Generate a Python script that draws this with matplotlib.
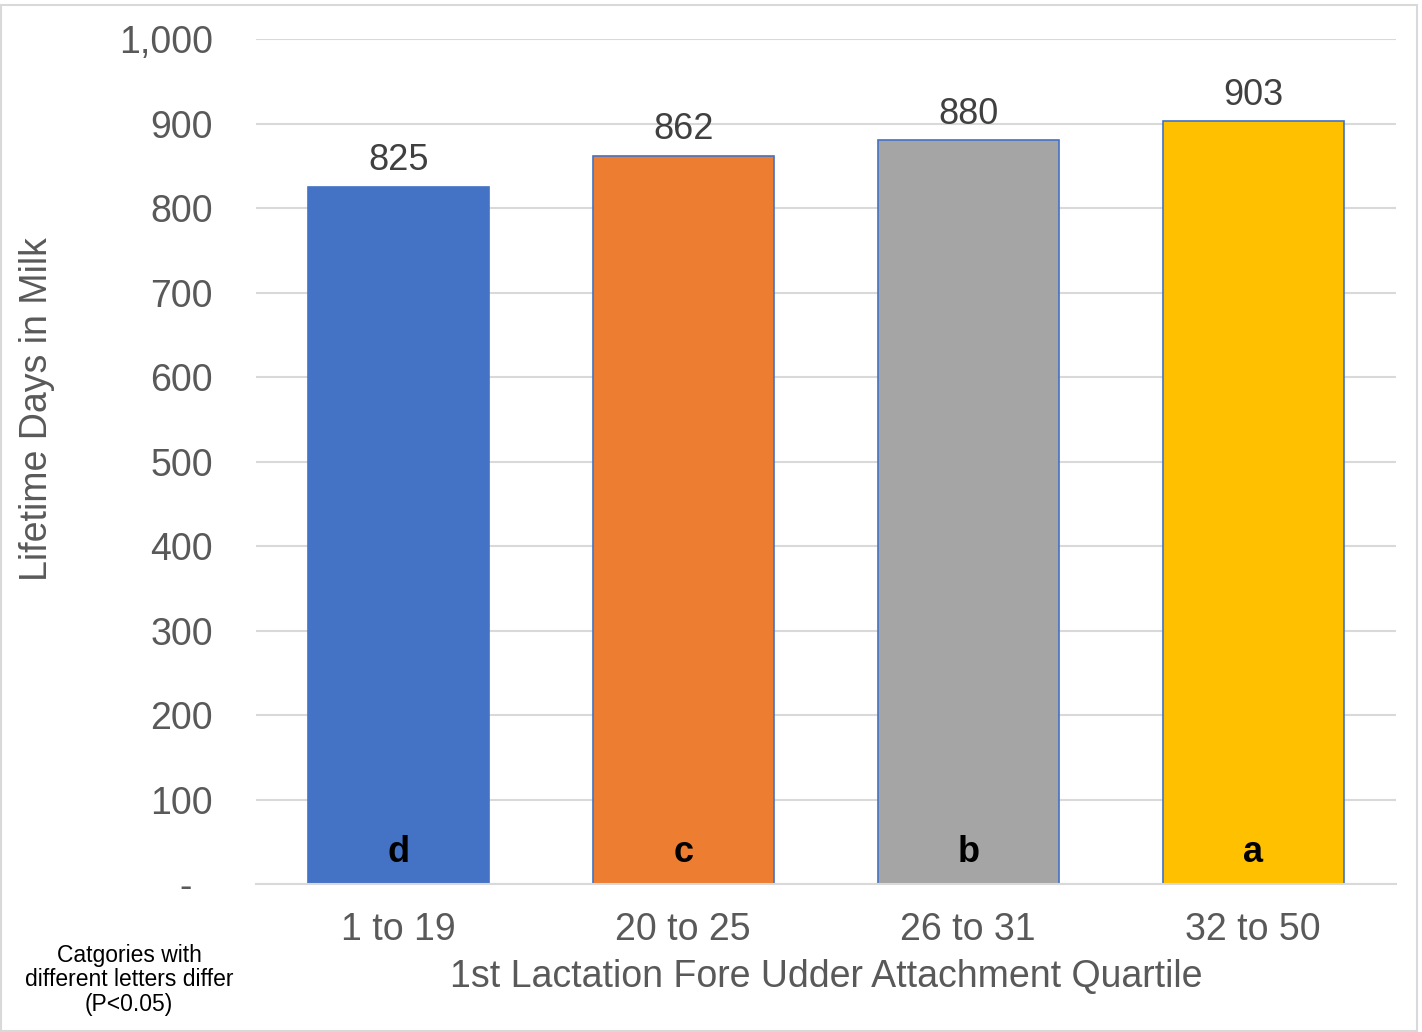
import numpy as np
import matplotlib.pyplot as plt
from matplotlib.patches import Rectangle

plt.rcParams['font.family'] = ['Liberation Sans', 'DejaVu Sans']

categories = ["1 to 19", "20 to 25", "26 to 31", "32 to 50"]
days = [825, 862, 880, 903]
letters = ["d", "c", "b", "a"]
colors = ["#4472C4", "#ED7D31", "#A5A5A5", "#FFC000"]
yticks = [0, 100, 200, 300, 400, 500, 600, 700, 800, 900, 1000]
ytick_labels = ["-  ", "100", "200", "300", "400", "500", "600", "700", "800", "900", "1,000"]

text_gray = "#595959"
grid_gray = "#D9D9D9"

fig = plt.figure(figsize=(14.22, 10.32), dpi=100)
ax = fig.add_axes([0.18, 0.1434, 0.8014, 0.8188])

x = np.arange(len(categories))
ax.bar(x, days, width=0.635, color=colors, edgecolor="#4472C4", linewidth=1.2, zorder=3)

for xi, v in zip(x, days):
    ax.text(xi, v + 10, str(v), ha="center", va="bottom", fontsize=26, color="#404040")
for xi, l in zip(x, letters):
    ax.text(xi, 16, l, ha="center", va="bottom", fontsize=26, fontweight="bold", color="black", zorder=4)

ax.set_xlim(-0.5, len(categories) - 0.5)
ax.set_ylim(0, 1000)
ax.set_yticks(yticks)
ax.set_yticklabels(ytick_labels)
ax.set_xticks(x)
ax.set_xticklabels(categories)
ax.tick_params(axis="both", length=0, labelsize=27, labelcolor=text_gray)
ax.tick_params(axis="y", pad=31)
ax.tick_params(axis="x", pad=20)
ax.yaxis.grid(True, color=grid_gray, linewidth=1.5, zorder=0)
for s in ["top", "right", "left"]:
    ax.spines[s].set_visible(False)
ax.spines["bottom"].set_color(grid_gray)
ax.spines["bottom"].set_linewidth(1.5)
ax.spines["bottom"].set_zorder(3.5)

fig.text(826 / 1422, 1 - 977 / 1032, "1st Lactation Fore Udder Attachment Quartile",
         ha="center", va="center", fontsize=27, color=text_gray)
fig.text(37 / 1422, 1 - 409 / 1032, "Lifetime Days in Milk", rotation=90,
         ha="center", va="center", fontsize=27, color=text_gray)
fig.text(129 / 1422, 1 - 980 / 1032, "Catgories with\ndifferent letters differ\n(P<0.05)",
         ha="center", va="center", fontsize=16.5, color="black", linespacing=1.1)

fig.patches.append(Rectangle((0.001, 0.001), 0.9955, 0.994, transform=fig.transFigure,
                             fill=False, edgecolor=grid_gray, linewidth=1.5))

fig.savefig("out.png", dpi=100)
